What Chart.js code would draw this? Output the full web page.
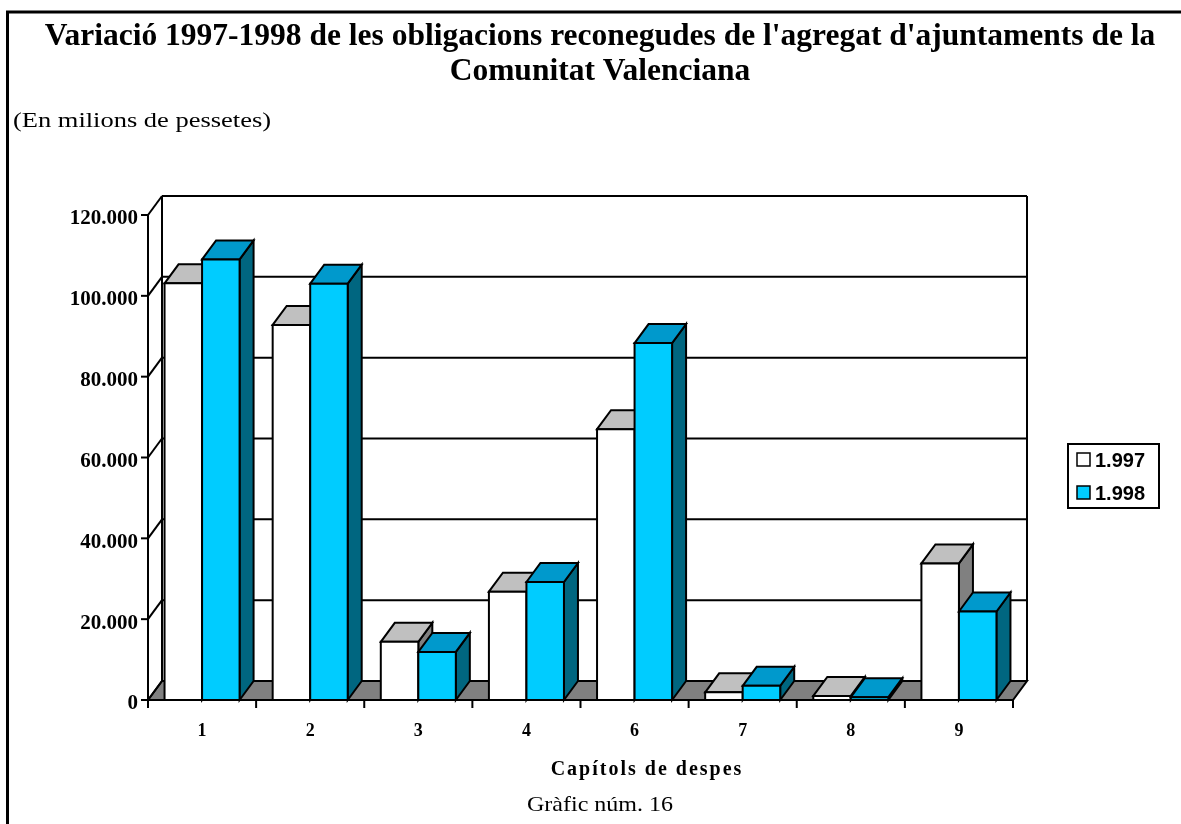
<!DOCTYPE html>
<html>
<head>
<meta charset="utf-8">
<script src="https://cdn.jsdelivr.net/npm/chart.js@4/dist/chart.umd.min.js"></script>
<style>
  html, body { margin: 0; padding: 0; background: #fff; }
  #wrap { width: 1181px; height: 824px; position: relative; }
</style>
</head>
<body>
<div id="wrap"><canvas id="grafic" width="1181" height="824"></canvas></div>
<script>
// ===== Dades =====
const capitols = ['1', '2', '3', '4', '6', '7', '8', '9'];
const obligacions1997 = [103100, 92800, 14400, 26800, 67000, 1900, 1000, 33800];
const obligacions1998 = [109000, 103000, 11900, 29200, 88300, 3500, 700, 21900];
const anys = ['1.997', '1.998'];
const yTicks = [0, 20000, 40000, 60000, 80000, 100000, 120000];

// ===== Estil =====
const frontColors = ['#ffffff', '#00ccff'];
const topColors = ['#c0c0c0', '#0099cc'];
const sideColors = ['#808080', '#006680'];
const DX = 14, DY = -19;   // profunditat 3D
const SERIF = "'Liberation Serif', 'Times New Roman', serif";
const SANS = "'Liberation Sans', Arial, sans-serif";

const fmt = v => String(v).replace(/\B(?=(\d{3})+(?!\d))/g, '.');

function line(ctx, x1, y1, x2, y2){
  ctx.beginPath(); ctx.moveTo(x1, y1); ctx.lineTo(x2, y2); ctx.stroke();
}
function poly(ctx, pts, fill){
  ctx.beginPath();
  ctx.moveTo(pts[0][0], pts[0][1]);
  for (let k = 1; k < pts.length; k++) ctx.lineTo(pts[k][0], pts[k][1]);
  ctx.closePath();
  ctx.fillStyle = fill; ctx.fill(); ctx.stroke();
}
// text eixamplat horitzontalment fins a una amplada donada
function wideText(ctx, txt, x, y, w){
  const m = ctx.measureText(txt).width;
  ctx.save();
  ctx.translate(x, y); ctx.scale(w / m, 1);
  ctx.fillText(txt, 0, 0);
  ctx.restore();
}

// ===== Plugin: parets, terra i columnes 3D =====
const box3d = {
  id: 'box3d',
  beforeDatasetsDraw(chart){
    const ctx = chart.ctx, a = chart.chartArea, ys = chart.scales.y;
    ctx.save();
    ctx.lineWidth = 2; ctx.strokeStyle = '#000'; ctx.lineJoin = 'miter';

    // terra
    poly(ctx, [[a.left, a.bottom], [a.left + DX, a.bottom + DY], [a.right + DX, a.bottom + DY], [a.right, a.bottom]], '#808080');

    // línies de la graella (paret del fons + paret esquerra)
    yTicks.forEach(v => {
      const py = ys.getPixelForValue(v);
      if (v > 0) line(ctx, a.left + DX, py + DY, a.right + DX, py + DY);
      line(ctx, a.left, py, a.left + DX, py + DY);
    });
    line(ctx, a.left + DX, a.top + DY, a.left + DX, a.bottom + DY);
    line(ctx, a.right + DX, a.top + DY, a.right + DX, a.bottom + DY);

    // columnes, per categoria i sèrie
    const metas = chart.data.datasets.map((d, i) => chart.getDatasetMeta(i));
    for (let j = 0; j < capitols.length; j++) {
      metas.forEach((meta, i) => {
        const el = meta.data[j];
        const p = el.getProps(['x', 'y', 'base', 'width'], true);
        const l = p.x - p.width / 2, r = p.x + p.width / 2, t = p.y, b = p.base;
        poly(ctx, [[r, t], [r + DX, t + DY], [r + DX, b + DY], [r, b]], sideColors[i]);
        poly(ctx, [[l, t], [l + DX, t + DY], [r + DX, t + DY], [r, t]], topColors[i]);
        poly(ctx, [[l, t], [r, t], [r, b], [l, b]], frontColors[i]);
      });
    }
    ctx.restore();
    return false;
  },
  afterDraw(chart){
    const ctx = chart.ctx, a = chart.chartArea, ys = chart.scales.y, xs = chart.scales.x;
    ctx.save();
    ctx.lineWidth = 2; ctx.strokeStyle = '#000';

    // eixos
    line(ctx, a.left, a.top, a.left, a.bottom + 1);
    line(ctx, a.left - 1, a.bottom, a.right + 1, a.bottom);
    yTicks.forEach(v => {
      const py = ys.getPixelForValue(v);
      line(ctx, a.left - 7, py, a.left, py);
    });
    for (let k = 0; k <= capitols.length; k++) {
      const px = xs.getPixelForDecimal(k / capitols.length);
      line(ctx, px, a.bottom, px, a.bottom + 8);
    }

    // textos
    ctx.fillStyle = '#000';
    ctx.textAlign = 'center'; ctx.textBaseline = 'alphabetic';
    ctx.font = 'bold 31.5px ' + SERIF;
    ctx.fillText("Variació 1997-1998 de les obligacions reconegudes de l'agregat d'ajuntaments de la", 600, 45);
    ctx.fillText('Comunitat Valenciana', 600, 80);

    ctx.textAlign = 'left';
    ctx.font = '21px ' + SERIF;
    wideText(ctx, '(En milions de pessetes)', 13, 127, 258);

    ctx.font = 'bold 20px ' + SERIF;
    ctx.letterSpacing = '2px';
    ctx.textAlign = 'center';
    ctx.fillText('Capítols de despes', 647, 775);
    ctx.letterSpacing = '0px';
    ctx.textAlign = 'left';
    ctx.font = '21px ' + SERIF;
    wideText(ctx, 'Gràfic núm. 16', 527, 811, 146);

    // llegenda
    ctx.lineWidth = 2;
    ctx.strokeRect(1068, 444, 91, 64);
    ctx.font = 'bold 20px ' + SANS;
    ctx.textAlign = 'left'; ctx.textBaseline = 'middle';
    chart.data.datasets.forEach((ds, i) => {
      const cy = 460 + i * 33;
      ctx.fillStyle = frontColors[i];
      ctx.fillRect(1077, cy - 7, 13, 13);
      ctx.lineWidth = 1.5;
      ctx.strokeRect(1077, cy - 7, 13, 13);
      ctx.fillStyle = '#000';
      ctx.fillText(ds.label, 1095, cy + 1);
    });

    // marc
    ctx.lineWidth = 3;
    ctx.strokeRect(7.5, 12, 1200, 840);
    ctx.restore();
  }
};

new Chart(document.getElementById('grafic'), {
  type: 'bar',
  data: {
    labels: capitols,
    datasets: [
      { label: anys[0], data: obligacions1997, backgroundColor: frontColors[0], borderColor: '#000', borderWidth: 2 },
      { label: anys[1], data: obligacions1998, backgroundColor: frontColors[1], borderColor: '#000', borderWidth: 2 }
    ]
  },
  options: {
    responsive: false,
    animation: false,
    devicePixelRatio: 1,
    layout: { padding: { left: 0, top: 215, right: 168, bottom: 0 } },
    datasets: { bar: { categoryPercentage: 0.694, barPercentage: 1 } },
    plugins: { legend: { display: false }, title: { display: false }, tooltip: { enabled: false } },
    scales: {
      x: {
        grid: { display: false, drawTicks: false },
        border: { display: false },
        ticks: { color: '#000', padding: 21, font: { family: SERIF, size: 18, weight: 'bold' } },
        afterFit(s){ s.height = 124; }
      },
      y: {
        min: 0, max: 120000,
        grid: { display: false, drawTicks: false },
        border: { display: false },
        ticks: {
          stepSize: 20000, color: '#000', padding: 10, labelOffset: 4,
          font: { family: SERIF, size: 21, weight: 'bold' },
          callback: v => fmt(v)
        },
        afterFit(s){ s.width = 148; }
      }
    }
  },
  plugins: [box3d]
});
</script>
</body>
</html>
